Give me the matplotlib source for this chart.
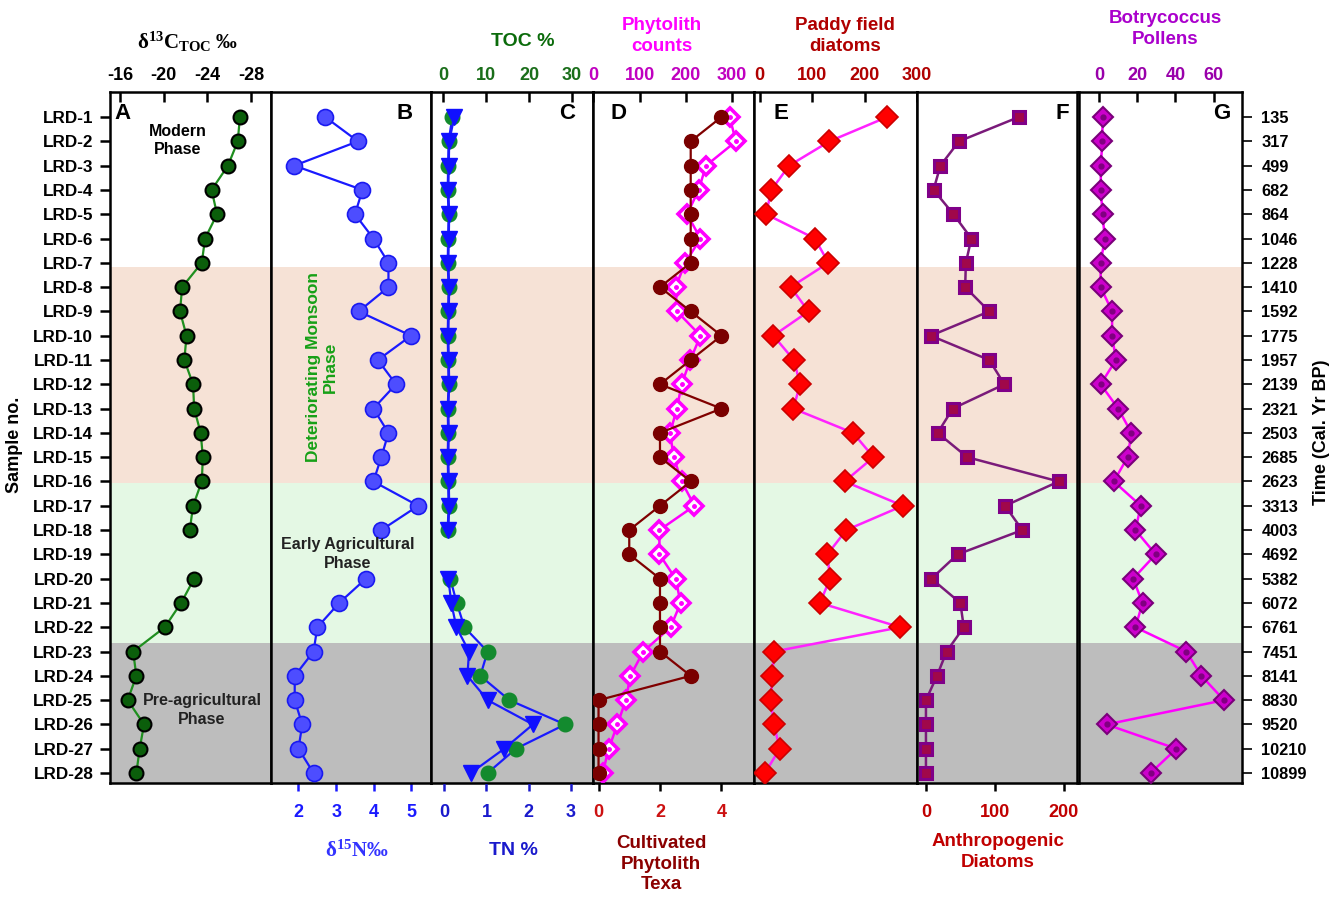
import numpy as np
import matplotlib.pyplot as plt

plt.rcParams['font.family'] = ['Liberation Sans', 'DejaVu Sans']
plt.rcParams['font.weight'] = 'bold'
plt.rcParams['axes.unicode_minus'] = False
plt.rcParams['mathtext.fontset'] = 'custom'
plt.rcParams['mathtext.rm'] = 'Liberation Serif:bold'
plt.rcParams['mathtext.it'] = 'Liberation Serif:bold'
plt.rcParams['mathtext.bf'] = 'Liberation Serif:bold'

nan = np.nan

# ------------ data ------------
samples = [f"LRD-{i}" for i in range(1, 29)]
ages = [135, 317, 499, 682, 864, 1046, 1228, 1410, 1592, 1775, 1957, 2139, 2321, 2503,
        2685, 2623, 3313, 4003, 4692, 5382, 6072, 6761, 7451, 8141, 8830, 9520, 10210, 10899]

d13c = [-27.0, -26.8, -25.9, -24.4, -24.9, -23.8, -23.5, -21.7, -21.5, -22.1, -21.9, -22.7,
        -22.8, -23.4, -23.6, -23.5, -22.7, -22.4, nan, -22.8, -21.6, -20.1, -17.2, -17.5,
        -16.7, -18.2, -17.8, -17.5]
d15n = [2.71, 3.58, 1.89, 3.70, 3.50, 3.99, 4.39, 4.39, 3.60, 4.99, 4.11, 4.59, 3.99, 4.39,
        4.20, 3.99, 5.18, 4.20, nan, 3.79, 3.08, 2.50, 2.40, 1.90, 1.90, 2.10, 2.00, 2.40]
toc = [2.1, 1.2, 1.1, 1.0, 1.2, 1.1, 1.0, 1.2, 1.1, 1.0, 1.1, 1.2, 1.0, 1.1, 1.0, 1.1, 1.2,
       1.0, nan, 1.6, 3.1, 4.9, 10.3, 8.6, 15.4, 28.4, 16.9, 10.3]
tn = [0.24, 0.12, 0.11, 0.10, 0.12, 0.11, 0.10, 0.12, 0.11, 0.10, 0.11, 0.12, 0.10, 0.11,
      0.10, 0.11, 0.12, 0.10, nan, 0.10, 0.17, 0.29, 0.59, 0.55, 1.03, 2.10, 1.42, 0.63]
phyto_counts = [295, 309, 244, 228, 203, 232, 199, 178, 181, 232, 210, 191, 181, 166, 174,
                191, 219, 143, 143, 178, 189, 167, 108, 80, 70, 52, 33, 20]
cult_phyto = [4, 3, 3, 3, 3, 3, 3, 2, 3, 4, 3, 2, 4, 2, 2, 3, 2, 1, 1, 2, 2, 2, 2, 3, 0, 0, 0, 0]
paddy_diatoms = [243, 133, 56, 22, 12, 105, 131, 59, 93, 26, 65, 77, 64, 178, 217, 162, 273,
                 165, 129, 134, 115, 268, 27, 24, 21, 27, 38, 10]
anthro_diatoms = [135, 48, 21, 11, 40, 66, 58, 57, 92, 7, 92, 114, 39, 17, 60, 193, 115, 140,
                  46, 8, 50, 55, 30, 16, 0, 0, 0, 0]
botryo = [1.9, 1.8, 1.0, 1.0, 1.9, 3.1, 0.9, 0.9, 6.9, 6.9, 8.9, 0.9, 10.1, 17.0, 15.0, 7.8,
          21.9, 19.1, 29.7, 17.9, 22.8, 19.1, 45.7, 53.6, 65.4, 4.0, 40.5, 27.0]

rows = np.arange(1, 29)

# phase bands (in row units)
phase_edges = [7.16, 16.07, 22.66, 28.41]
phase_colors = ['#f6e2d6', '#e4f8e4', '#bdbdbd']

W, H = 1343, 897
TOP, BOT = 92, 783

fig = plt.figure(figsize=(W / 100, H / 100), dpi=100)


def make_ax(x0, x1):
    ax = fig.add_axes([x0 / W, 1 - BOT / H, (x1 - x0) / W, (BOT - TOP) / H])
    ax.set_ylim(28.41, -0.03)
    for i, c in enumerate(phase_colors):
        ax.axhspan(phase_edges[i], phase_edges[i + 1], color=c, lw=0, zorder=0)
    for s in ax.spines.values():
        s.set_linewidth(1.8)
    ax.tick_params(axis='y', left=False, labelleft=False)
    ax.tick_params(axis='x', bottom=False, labelbottom=False)
    return ax


def twin(ax):
    ax2 = ax.twiny()
    ax2.set_ylim(28.41, -0.03)
    return ax2


def top_scale(ax, ticks, col):
    ax.xaxis.set_ticks_position('top')
    ax.set_xticks(ticks)
    ax.tick_params(axis='x', top=True, labeltop=True, bottom=False, labelbottom=False,
                   direction='in', length=7, width=1.8, pad=6, labelsize=13,
                   labelcolor=col)


def bottom_scale(ax, ticks, col):
    ax.xaxis.set_ticks_position('bottom')
    ax.set_xticks(ticks)
    ax.tick_params(axis='x', bottom=True, labelbottom=True, top=False, labeltop=False,
                   direction='out', length=6, width=1.8, pad=9, labelsize=13,
                   labelcolor=col, color=col)


def letter(ax, x, s):
    ax.text(x, 0.9696, s, transform=ax.transAxes, ha='center', va='center',
            fontsize=16, fontweight='bold', zorder=10)


def ftext(x, y, s, **kw):
    fig.text(x / W, 1 - y / H, s, ha='center', va='center', fontweight='bold', **kw)


# A: d13C
axA = make_ax(110, 271)
axA.plot(d13c, rows, '-', color='#1f8f1f', lw=1.6, marker='o', ms=10,
         mfc='#0b5e0b', mec='black', mew=1.5, zorder=3)
axA.set_xlim(-15.08, -29.85)
top_scale(axA, [-16, -20, -24, -28], 'black')
axA.set_yticks(rows)
axA.set_yticklabels(samples)
axA.tick_params(axis='y', left=True, labelleft=True, direction='out', length=7,
                width=1.8, pad=5, labelsize=12.3)
letter(axA, 0.08, 'A')

# B: d15N
axB = make_ax(271, 431)
axB.plot(d15n, rows, '-', color='#1a1aff', lw=1.6, marker='o', ms=11.5,
         mfc='#4d4dff', mec='#1a1af0', mew=1.2, zorder=3)
axB.set_xlim(1.27, 5.52)
bottom_scale(axB, [2, 3, 4, 5], '#1a1aff')
letter(axB, 0.8375, 'B')

# C: TOC (top) and TN (bottom)
axC = make_ax(431, 593)
axC2 = twin(axC)
axC.plot(toc, rows, '-', color='#1a1aff', lw=1.6, marker='o', ms=10.5,
         mfc='#138a2e', mec='#138a2e', zorder=3)
axC.set_xlim(-2.9, 34.9)
axC2.plot(tn, rows, '-', color='#1a1aff', lw=1.6, marker='v', ms=11,
          mfc='#1010ff', mec='#1010ff', zorder=4)
axC2.set_xlim(-0.31, 3.52)
top_scale(axC, [0, 10, 20, 30], '#1a6e1a')
bottom_scale(axC2, [0, 1, 2, 3], '#1a1acc')
letter(axC, 0.84, 'C')

# D: phytolith counts (top) and cultivated phytolith (bottom)
axD = make_ax(593, 754)
axD2 = twin(axD)
axD.plot(phyto_counts, rows, '-', color='#ff00ff', lw=1.8, marker='D', ms=9,
         mfc='white', mec='#ff00ff', mew=2.6, zorder=3)
axD.plot(phyto_counts, rows, 'o', color='#ff00ff', ms=2.5, zorder=3)
axD.set_xlim(-1, 348)
axD2.plot(cult_phyto, rows, '-', color='#800000', lw=1.6, marker='o', ms=10,
          mfc='#7a0000', mec='#7a0000', zorder=4)
axD2.set_xlim(-0.18, 5.06)
top_scale(axD, [0, 100, 200, 300], '#c000c0')
bottom_scale(axD2, [0, 2, 4], '#cc1111')
axD2.tick_params(axis='x', color='black')
letter(axD, 0.16, 'D')

# E: paddy field diatoms
axE = make_ax(754, 917)
axE.plot(paddy_diatoms, rows, '-', color='#ff22ff', lw=1.8, marker='D', ms=11,
         mfc='#ff0000', mec='#cc0000', mew=1.2, zorder=3)
axE.set_xlim(-11, 300)
top_scale(axE, [0, 100, 200, 300], '#b00000')
letter(axE, 0.166, 'E')

# F: anthropogenic diatoms
axF = make_ax(917, 1077)
axF.plot(anthro_diatoms, rows, '-', color='#7a1a7a', lw=1.8, marker='s', ms=8,
         mfc='#a0084a', mec='#800088', mew=2.2, zorder=3)
axF.set_xlim(-13, 219.5)
bottom_scale(axF, [0, 100, 200], '#c00000')
axF.tick_params(axis='x', color='black')
letter(axF, 0.906, 'F')

# G: Botryococcus pollens
axG = make_ax(1079, 1242)
axG.plot(botryo, rows, '-', color='#ff00ff', lw=1.8, marker='D', ms=10,
         mfc='#cc00cc', mec='#7a007a', mew=1.5, zorder=3)
axG.plot(botryo, rows, 'o', color='#800080', ms=3.5, zorder=3)
axG.set_xlim(-10.4, 74.8)
top_scale(axG, [0, 20, 40, 60], '#9900aa')
axG.yaxis.set_ticks_position('right')
axG.set_yticks(rows)
axG.set_yticklabels([str(a) for a in ages])
axG.tick_params(axis='y', right=True, labelright=True, left=False, labelleft=False,
                direction='out', length=7, width=1.2, pad=7, labelsize=11.8)
letter(axG, 0.877, 'G')

# ------------ axis titles ------------
serif = ['Liberation Serif', 'DejaVu Serif']
fig.text(188 / W, 1 - 42 / H, 'δ$^{13}$C$_{\\mathrm{TOC}}$ ‰', ha='center', va='center',
         fontsize=15, fontweight='bold', family=serif)
ftext(523, 42, 'TOC %', fontsize=14, color='#0b6b0b')
ftext(662, 36, 'Phytolith\ncounts', fontsize=13.5, color='#ff00ff', linespacing=1.25)
ftext(845, 36, 'Paddy field\ndiatoms', fontsize=13.5, color='#b00000', linespacing=1.25)
ftext(1165, 29, 'Botrycoccus\nPollens', fontsize=13.5, color='#aa00cc', linespacing=1.25)

fig.text(357 / W, 1 - 851 / H, 'δ$^{15}$N‰', ha='center', va='center', fontsize=15,
         fontweight='bold', color='#3333ff', family=serif)
ftext(513, 850, 'TN %', fontsize=14, color='#1a1acc')
ftext(661, 864, 'Cultivated\nPhytolith\nTexa', fontsize=13.5, color='#8b0000', linespacing=1.25)
ftext(998, 852, 'Anthropogenic\nDiatoms', fontsize=13.5, color='#c00000', linespacing=1.25)

ftext(15, 445, 'Sample no.', fontsize=13, rotation=90)
ftext(1322, 432, 'Time (Cal. Yr BP)', fontsize=13, rotation=90)

# ------------ phase annotations ------------
ftext(178, 140, 'Modern\nPhase', fontsize=11.5, linespacing=1.25)
ftext(322, 367, 'Deteriorating Monsoon\nPhase', fontsize=12.5, rotation=90,
      color='#16a016', linespacing=1.15)
ftext(348, 554, 'Early Agricultural\nPhase', fontsize=11.5, color='#222222', linespacing=1.25)
ftext(202, 710, 'Pre-agricultural\nPhase', fontsize=11.5, color='#222222', linespacing=1.25)

fig.savefig('out.png', dpi=100)
